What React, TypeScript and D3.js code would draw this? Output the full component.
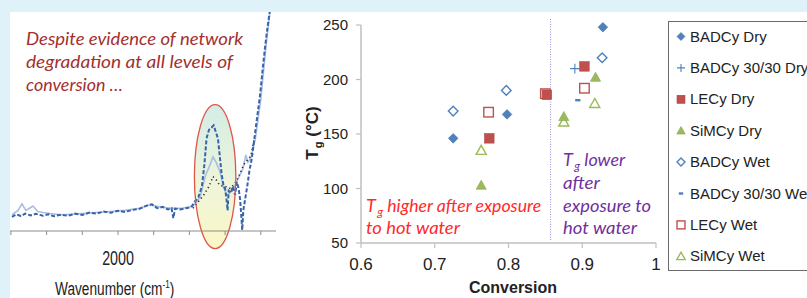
import React from "react";
import * as d3 from "d3";

// --- scatter data: Tg vs conversion ---
const seriesNames = [
  "BADCy Dry",
  "BADCy 30/30 Dry",
  "LECy Dry",
  "SiMCy Dry",
  "BADCy Wet",
  "BADCy 30/30 Wet",
  "LECy Wet",
  "SiMCy Wet",
];
const badcyDryConv = [0.725, 0.798, 0.928];
const badcyDryTg = [146, 168, 248];
const badcy3030DryConv = [0.89];
const badcy3030DryTg = [210];
const lecyDryConv = [0.774, 0.852, 0.903];
const lecyDryTg = [146, 186, 212];
const simcyDryConv = [0.763, 0.875, 0.918];
const simcyDryTg = [103, 166, 202];
const badcyWetConv = [0.725, 0.797, 0.927];
const badcyWetTg = [171, 190, 220];
const badcy3030WetConv = [0.894];
const badcy3030WetTg = [181];
const lecyWetConv = [0.773, 0.85, 0.903];
const lecyWetTg = [170, 187, 192];
const simcyWetConv = [0.763, 0.875, 0.917];
const simcyWetTg = [135, 161, 178];

const xTicks = [0.6, 0.7, 0.8, 0.9, 1];
const yTicks = [50, 100, 150, 200, 250];
const equalTgConversion = 0.857;

// --- FTIR spectrum (wavenumber, absorbance a.u.) ---
const spectrumDashed: [number, number][] = [
  [1703, 0.06], [1715, 0.072], [1728, 0.064], [1740, 0.075], [1755, 0.067],
  [1770, 0.074], [1790, 0.065], [1805, 0.072], [1820, 0.063], [1840, 0.07],
  [1860, 0.065], [1880, 0.075], [1900, 0.069], [1920, 0.08], [1940, 0.075],
  [1960, 0.085], [1980, 0.079], [2000, 0.088], [2020, 0.083], [2040, 0.092],
  [2060, 0.097], [2080, 0.112], [2095, 0.118], [2110, 0.1], [2125, 0.106],
  [2140, 0.094], [2150, 0.1], [2155, 0.055], [2160, 0.098], [2175, 0.094],
  [2190, 0.1], [2205, 0.104], [2215, 0.13], [2225, 0.15], [2235, 0.2],
  [2242, 0.3], [2248, 0.42], [2255, 0.46], [2262, 0.47], [2268, 0.48],
  [2274, 0.45], [2280, 0.42], [2285, 0.34], [2290, 0.26], [2296, 0.2],
  [2300, 0.19], [2304, 0.14], [2307, 0.09], [2310, 0.18], [2316, 0.17],
  [2322, 0.2], [2328, 0.16], [2333, 0.22], [2338, 0.19], [2342, 0.14],
  [2346, 0.05], [2348, 0.0], [2351, 0.09], [2356, 0.14], [2362, 0.2],
  [2368, 0.27], [2375, 0.33], [2382, 0.42], [2390, 0.52], [2398, 0.62],
  [2406, 0.75], [2412, 0.84], [2418, 0.92], [2424, 0.99], [2430, 1.06],
];
const spectrumSolid: [number, number][] = [
  [1703, 0.07], [1720, 0.09], [1731, 0.12], [1742, 0.09], [1752, 0.1],
  [1762, 0.11], [1775, 0.085], [1790, 0.08], [1810, 0.075], [1840, 0.07],
  [1870, 0.072], [1900, 0.075], [1940, 0.08], [1980, 0.085], [2020, 0.09],
  [2060, 0.1], [2090, 0.115], [2120, 0.105], [2150, 0.1], [2180, 0.1],
  [2210, 0.11], [2230, 0.15], [2245, 0.25], [2258, 0.3], [2266, 0.335],
  [2275, 0.31], [2285, 0.27], [2295, 0.2], [2305, 0.16], [2320, 0.18],
  [2335, 0.23], [2350, 0.28], [2358, 0.345], [2364, 0.31], [2372, 0.33],
  [2385, 0.42], [2400, 0.6], [2415, 0.85], [2430, 1.06],
];
const spectrumDotted: [number, number][] = [
  [2210, 0.1], [2225, 0.13], [2240, 0.16], [2255, 0.2], [2266, 0.245],
  [2275, 0.23], [2285, 0.205], [2300, 0.2], [2315, 0.19], [2330, 0.22],
  [2342, 0.26], [2352, 0.3], [2362, 0.32], [2372, 0.34], [2382, 0.42],
];
const wavenumberTicks = [1700, 1800, 1900, 2000, 2100, 2200, 2300, 2400];

const BLUE = "#4F81BD";
const RED = "#C0504D";
const GREEN = "#9BBB59";

type Marker = "diamond" | "plus" | "square" | "triangle" | "minus";
interface Series {
  name: string;
  conv: number[];
  tg: number[];
  marker: Marker;
  color: string;
  filled: boolean;
}

const series: Series[] = [
  { name: seriesNames[0], conv: badcyDryConv, tg: badcyDryTg, marker: "diamond", color: BLUE, filled: true },
  { name: seriesNames[1], conv: badcy3030DryConv, tg: badcy3030DryTg, marker: "plus", color: BLUE, filled: false },
  { name: seriesNames[2], conv: lecyDryConv, tg: lecyDryTg, marker: "square", color: RED, filled: true },
  { name: seriesNames[3], conv: simcyDryConv, tg: simcyDryTg, marker: "triangle", color: GREEN, filled: true },
  { name: seriesNames[4], conv: badcyWetConv, tg: badcyWetTg, marker: "diamond", color: BLUE, filled: false },
  { name: seriesNames[5], conv: badcy3030WetConv, tg: badcy3030WetTg, marker: "minus", color: BLUE, filled: false },
  { name: seriesNames[6], conv: lecyWetConv, tg: lecyWetTg, marker: "square", color: RED, filled: false },
  { name: seriesNames[7], conv: simcyWetConv, tg: simcyWetTg, marker: "triangle", color: GREEN, filled: false },
];
// wet (hollow) markers sit underneath the dry (filled) ones
const drawOrder = [...series.filter((s) => !s.filled), ...series.filter((s) => s.filled)];

function MarkerShape({ s, x, y, r }: { s: Series; x: number; y: number; r: number }) {
  const fill = s.filled ? s.color : "#fff";
  const sw = s.filled ? 0.6 : 1.4;
  const stroke = s.filled ? d3.color(s.color)!.darker(0.4).toString() : s.color;
  if (s.marker === "diamond") {
    return (
      <path
        transform={`translate(${x},${y})`}
        d={`M0,${-r}L${r},0L0,${r}L${-r},0Z`}
        fill={fill}
        stroke={stroke}
        strokeWidth={sw}
      />
    );
  }
  if (s.marker === "square") {
    const h = r * 0.95;
    return <rect x={x - h} y={y - h} width={h * 2} height={h * 2} fill={fill} stroke={stroke} strokeWidth={sw} />;
  }
  if (s.marker === "triangle") {
    const h = r * 1.05;
    return (
      <path
        transform={`translate(${x},${y})`}
        d={`M0,${-h}L${h},${h * 0.8}L${-h},${h * 0.8}Z`}
        fill={fill}
        stroke={stroke}
        strokeWidth={sw}
      />
    );
  }
  if (s.marker === "plus") {
    return (
      <path
        transform={`translate(${x},${y})`}
        d={`M${-r},0H${r}M0,${-r}V${r}`}
        stroke={s.color}
        strokeWidth={1.1}
        fill="none"
      />
    );
  }
  return <rect x={x - r * 0.55} y={y - 1.2} width={r * 1.1} height={2.4} fill={s.color} />;
}

export default function App() {
  const W = 807;
  const H = 298;

  // scatter scales
  const x = d3.scaleLinear().domain([0.6, 1]).range([361, 656]);
  const y = d3.scaleLinear().domain([50, 250]).range([243, 25]);

  // spectrum scales
  const sx = d3.scaleLinear().domain([2000, 2100]).range([118, 153.7]);
  const sy = d3.scaleLinear().domain([0, 1]).range([230, 12]);
  const line = d3
    .line<[number, number]>()
    .x((d) => sx(d[0]))
    .y((d) => sy(d[1]));

  const ellipseCx = sx(2272);
  const ellipseCy = sy(0.245);
  const ellipseRx = sx(2330) - sx(2272);
  const ellipseRy = sy(0.245) - sy(0.575);

  const legendY = (i: number) => 41.5 + i * 31.4;

  return (
    <svg
      width={W}
      height={H}
      style={{ position: "absolute", left: 0, top: 0, fontFamily: "'Liberation Sans', Arial, sans-serif" }}
    >
      <defs>
        <linearGradient id="ellFill" x1="0" y1="0" x2="0" y2="1">
          <stop offset="0%" stopColor="#D3ECE6" />
          <stop offset="55%" stopColor="#EEF5DA" />
          <stop offset="100%" stopColor="#FBF7C6" />
        </linearGradient>
        <clipPath id="specClip">
          <rect x={10} y={12} width={272} height={220} />
        </clipPath>
      </defs>
      <rect width={W} height={H} fill="#DFF2FA" />
      <rect x={10} y={12} width={W - 10} height={H - 12} fill="#fff" />

      {/* ---------- left: spectrum ---------- */}
      <text fill="#A3302E" fontFamily="Lato, 'Open Sans', sans-serif" fontStyle="italic" fontSize={17.5}>
        <tspan x={26} y={45} textLength={217} lengthAdjust="spacingAndGlyphs">Despite evidence of network</tspan>
        <tspan x={26} y={68} textLength={207} lengthAdjust="spacingAndGlyphs">degradation at all levels of</tspan>
        <tspan x={26} y={91} textLength={97} lengthAdjust="spacingAndGlyphs">conversion …</tspan>
      </text>

      <ellipse cx={ellipseCx} cy={ellipseCy} rx={ellipseRx} ry={ellipseRy} fill="url(#ellFill)" />
      <g clipPath="url(#specClip)" fill="none">
        <path d={line(spectrumSolid) ?? ""} stroke="#A9BEE2" strokeWidth={1.6} />
        <path d={line(spectrumDotted) ?? ""} stroke="#2B2B2B" strokeWidth={1.6} strokeDasharray="1.2,3" />
        <path d={line(spectrumDashed) ?? ""} stroke="#3763A8" strokeWidth={2} strokeDasharray="4,2" />
      </g>
      <ellipse cx={ellipseCx} cy={ellipseCy} rx={ellipseRx} ry={ellipseRy} fill="none" stroke="#E0564B" strokeWidth={1.3} />

      <line x1={10} x2={276} y1={231} y2={231} stroke="#8C8C8C" strokeWidth={1.2} />
      {wavenumberTicks.map((t) => (
        <line key={t} x1={sx(t)} x2={sx(t)} y1={231} y2={235} stroke="#8C8C8C" strokeWidth={1} />
      ))}
      <text transform={`translate(${sx(2000)},265) scale(0.68,1)`} textAnchor="middle" fontSize={21} fill="#222">
        2000
      </text>
      <text transform="translate(55,295) scale(0.74,1)" fontSize={18.5} fill="#222">
        Wavenumber (cm<tspan dy={-7} fontSize={11}>-1</tspan>
        <tspan dy={7}>)</tspan>
      </text>

      {/* ---------- right: scatter ---------- */}
      <line
        x1={x(equalTgConversion)}
        x2={x(equalTgConversion)}
        y1={y(50) - 3}
        y2={y(256)}
        stroke="#9A8FDB"
        strokeWidth={1}
        strokeDasharray="1,1.5"
      />
      <line x1={x(0.6)} x2={x(0.6)} y1={y(50)} y2={y(250)} stroke="#BFBFBF" strokeWidth={1.5} />
      <line x1={x(0.6)} x2={x(1)} y1={y(50)} y2={y(50)} stroke="#BFBFBF" strokeWidth={1.5} />
      {yTicks.map((t) => (
        <g key={t}>
          <line x1={x(0.6) - 5} x2={x(0.6)} y1={y(t)} y2={y(t)} stroke="#BFBFBF" strokeWidth={1.2} />
          <text x={348} y={y(t) + 5.3} textAnchor="end" fontSize={15} fill="#222">
            {t}
          </text>
        </g>
      ))}
      {xTicks.map((t) => (
        <g key={t}>
          <line x1={x(t)} x2={x(t)} y1={y(50)} y2={y(50) + 5} stroke="#BFBFBF" strokeWidth={1.2} />
          <text x={x(t)} y={270} textAnchor="middle" fontSize={17} fill="#222">
            {d3.format("~g")(t)}
          </text>
        </g>
      ))}
      <text x={513} y={293} textAnchor="middle" fontSize={16} fontWeight="bold" fill="#222">
        Conversion
      </text>
      <text transform="translate(318,133) rotate(-90)" textAnchor="middle" fontSize={17} fontWeight="bold" fill="#222">
        T<tspan fontSize={11} dx={1} dy={4}>g</tspan>
        <tspan dy={-4}> (°C)</tspan>
      </text>

      <text fill="#FF2A2A" fontFamily="Lato, 'Open Sans', sans-serif" fontStyle="italic" fontSize={18}>
        <tspan x={366} y={212}>T</tspan>
        <tspan fontSize={12} dx={1.5} dy={4}>g</tspan>
        <tspan dy={-4} textLength={158} lengthAdjust="spacingAndGlyphs"> higher after exposure</tspan>
        <tspan x={366} y={233.5} textLength={94} lengthAdjust="spacingAndGlyphs">to hot water</tspan>
      </text>
      <text fill="#7030A0" fontFamily="Lato, 'Open Sans', sans-serif" fontStyle="italic" fontSize={18}>
        <tspan x={563} y={166}>T</tspan>
        <tspan fontSize={12} dx={1.5} dy={4}>g</tspan>
        <tspan dy={-4} textLength={45} lengthAdjust="spacingAndGlyphs"> lower</tspan>
        <tspan x={563} y={188.5} textLength={37} lengthAdjust="spacingAndGlyphs">after</tspan>
        <tspan x={563} y={211.5} textLength={88} lengthAdjust="spacingAndGlyphs">exposure to</tspan>
        <tspan x={563} y={233.5} textLength={74} lengthAdjust="spacingAndGlyphs">hot water</tspan>
      </text>

      {drawOrder.map((s) =>
        s.conv.map((c, i) => <MarkerShape key={s.name + i} s={s} x={x(c)} y={y(s.tg[i])} r={s.marker === "square" ? 5 : 4.8} />)
      )}

      {/* ---------- legend ---------- */}
      <rect x={668.5} y={21.5} width={160} height={249} fill="#fff" stroke="#6A6A6A" strokeWidth={1} />
      {series.map((s, i) => (
        <g key={s.name}>
          <MarkerShape s={s} x={681} y={legendY(i) - 5} r={s.marker === "square" ? 4.2 : 4} />
          <text x={690} y={legendY(i)} fontSize={15} fill="#222">
            {s.name}
          </text>
        </g>
      ))}
    </svg>
  );
}
